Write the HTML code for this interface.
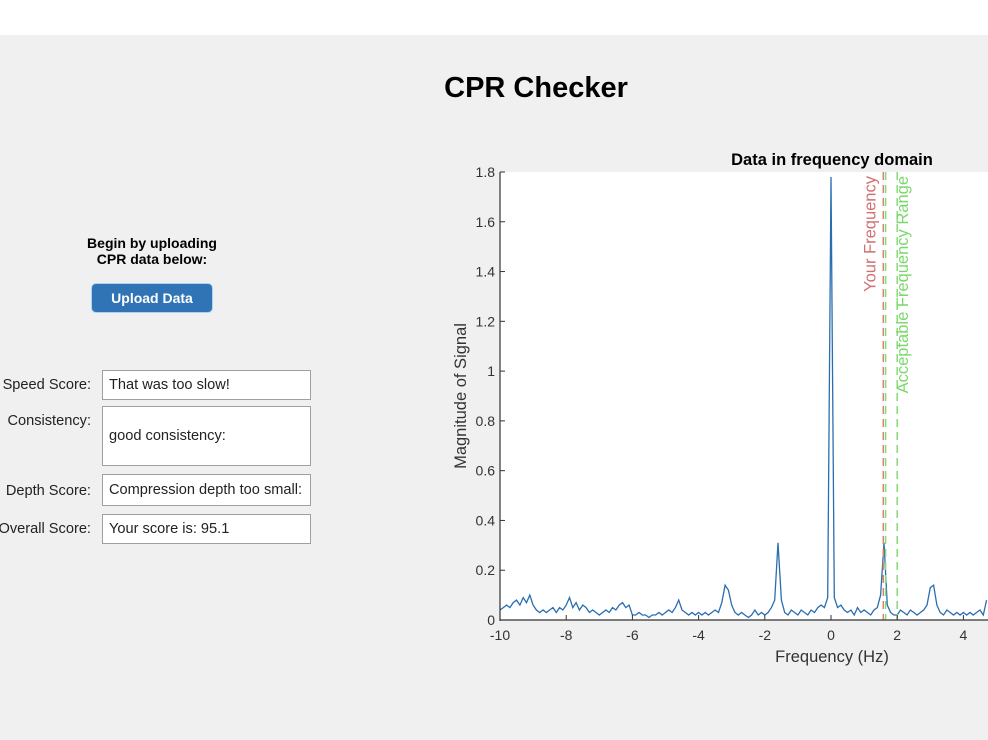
<!DOCTYPE html>
<html><head><meta charset="utf-8">
<style>
body{margin:0;width:988px;height:740px;overflow:hidden;background:#f0f0f0;font-family:"Liberation Sans",Arial,sans-serif;position:relative}
.top{position:absolute;left:0;top:0;width:988px;height:35px;background:#fff}
.title{position:absolute;left:0;width:1072px;top:72px;text-align:center;font-size:29px;font-weight:bold;color:#000}
.lbl{position:absolute;right:897px;font-size:14.6px;color:#222;text-align:right;white-space:nowrap}
.box{position:absolute;left:102px;width:209px;background:#fff;border:1px solid #a0a0a0;font-size:14.6px;color:#222;padding-left:6px;box-sizing:border-box;display:flex;align-items:center;white-space:nowrap;overflow:hidden}
</style></head><body>
<div class="top"></div>
<div class="title">CPR Checker</div>
<div style="position:absolute;left:52px;width:200px;top:235px;text-align:center;font-size:14px;font-weight:bold;line-height:16px">Begin by uploading<br>CPR data below:</div>
<div style="position:absolute;left:92px;top:284px;width:120px;height:28px;background:#3174b6;border-radius:4px;color:#fff;font-weight:bold;font-size:14px;display:flex;align-items:center;justify-content:center;box-shadow:0 0 0 1px #a9d4f5">Upload Data</div>
<div class="lbl" style="top:377px">Speed Score:</div>
<div class="box" style="top:370px;height:30px">That was too slow!</div>
<div class="lbl" style="top:413px">Consistency:</div>
<div class="box" style="top:406px;height:60px">good consistency:</div>
<div class="lbl" style="top:483px">Depth Score:</div>
<div class="box" style="top:474px;height:32px">Compression depth too small:</div>
<div class="lbl" style="top:521px">Overall Score:</div>
<div class="box" style="top:514px;height:30px">Your score is: 95.1</div>

<svg id="chart" style="position:absolute;left:0;top:0" width="988" height="740" font-family="Liberation Sans, Arial, sans-serif"></svg>
<script>
const freqStart=-10, freqStep=0.1;
const magnitudes=[
.04,.05,.06,.05,.07,.08,.06,.09,.07,.10,
.06,.04,.03,.04,.03,.04,.05,.03,.05,.04,
.06,.09,.05,.07,.04,.06,.05,.03,.04,.03,
.02,.03,.04,.03,.05,.04,.06,.07,.05,.06,
.02,.02,.03,.02,.02,.01,.02,.02,.03,.02,
.03,.04,.03,.05,.08,.04,.03,.02,.03,.02,
.03,.02,.03,.02,.03,.04,.03,.07,.14,.12,
.06,.03,.02,.03,.02,.01,.02,.04,.02,.03,
.02,.03,.05,.08,.31,.08,.03,.02,.04,.03,
.02,.04,.03,.02,.04,.03,.05,.06,.05,.09,
1.78,.09,.05,.06,.04,.03,.04,.02,.05,.03,
.04,.03,.02,.04,.05,.10,.31,.06,.03,.02,
.02,.04,.03,.02,.04,.03,.02,.03,.04,.06,
.13,.14,.06,.03,.02,.04,.03,.02,.03,.02,
.03,.02,.03,.02,.03,.04,.02,.08];
const xTicks=[-10,-8,-6,-4,-2,0,2,4];
const yTicks=[0,0.2,0.4,0.6,0.8,1,1.2,1.4,1.6,1.8];
const yourFreq=[1.58];
const rangeFreq=[1.65,2.0];
const NS='http://www.w3.org/2000/svg';
const svg=document.getElementById('chart');
const X=v=>831+(v)*33.1, Y=v=>620-v*248.9;
function mk(t,a,p){const e=document.createElementNS(NS,t);for(const k in a)e.setAttribute(k,a[k]);(p||svg).appendChild(e);return e;}
const bg=mk('rect',{x:500,y:172,width:488,height:448,fill:'#fff'});


const ct=mk('text',{x:832,y:165,'text-anchor':'middle','font-size':16.5,'font-weight':'bold',fill:'#000'});ct.textContent='Data in frequency domain';


let d='';magnitudes.forEach((m,i)=>{d+=(i?'L':'M')+X(freqStart+i*freqStep).toFixed(1)+','+Y(m).toFixed(1);});
const ln=mk('path',{d:d,fill:'none',stroke:'#2a6eb0','stroke-width':1.3});


yourFreq.forEach(f=>{const l=mk('line',{x1:X(f),x2:X(f),y1:172,y2:620,stroke:'#d9826e','stroke-width':1.5,'stroke-dasharray':'8,5'});

});
rangeFreq.forEach(f=>{const l=mk('line',{x1:X(f),x2:X(f),y1:172,y2:620,stroke:'#84dc74','stroke-width':1.5,'stroke-dasharray':'8,5'});

});
const t1=mk('text',{transform:`translate(${X(yourFreq[0])-8},176) rotate(-90)`,'text-anchor':'end','font-size':16.5,fill:'#d07070'});t1.textContent='Your Frequency';


const t2=mk('text',{transform:`translate(${X(rangeFreq[1])+11},176) rotate(-90)`,'text-anchor':'end','font-size':16.5,fill:'#7ad86a'});t2.textContent='Acceptable Frequency Range';


mk('line',{x1:500,x2:500,y1:172,y2:621,stroke:'#333','stroke-width':1.2});
mk('line',{x1:500,x2:988,y1:620,y2:620,stroke:'#333','stroke-width':1.2});
yTicks.forEach(v=>{mk('line',{x1:500,x2:505,y1:Y(v),y2:Y(v),stroke:'#333'});
const t=mk('text',{x:495,y:Y(v)+5,'text-anchor':'end','font-size':14,fill:'#333'});t.textContent=String(v);

});
xTicks.forEach(v=>{mk('line',{x1:X(v),x2:X(v),y1:620,y2:615,stroke:'#333'});
const t=mk('text',{x:X(v),y:640,'text-anchor':'middle','font-size':14,fill:'#333'});t.textContent=String(v);

});
const xt=mk('text',{x:832,y:662,'text-anchor':'middle','font-size':16.5,fill:'#333'});xt.textContent='Frequency (Hz)';


const yt=mk('text',{transform:'translate(466,396) rotate(-90)','text-anchor':'middle','font-size':16.5,fill:'#333'});yt.textContent='Magnitude of Signal';


</script>
</body></html>
